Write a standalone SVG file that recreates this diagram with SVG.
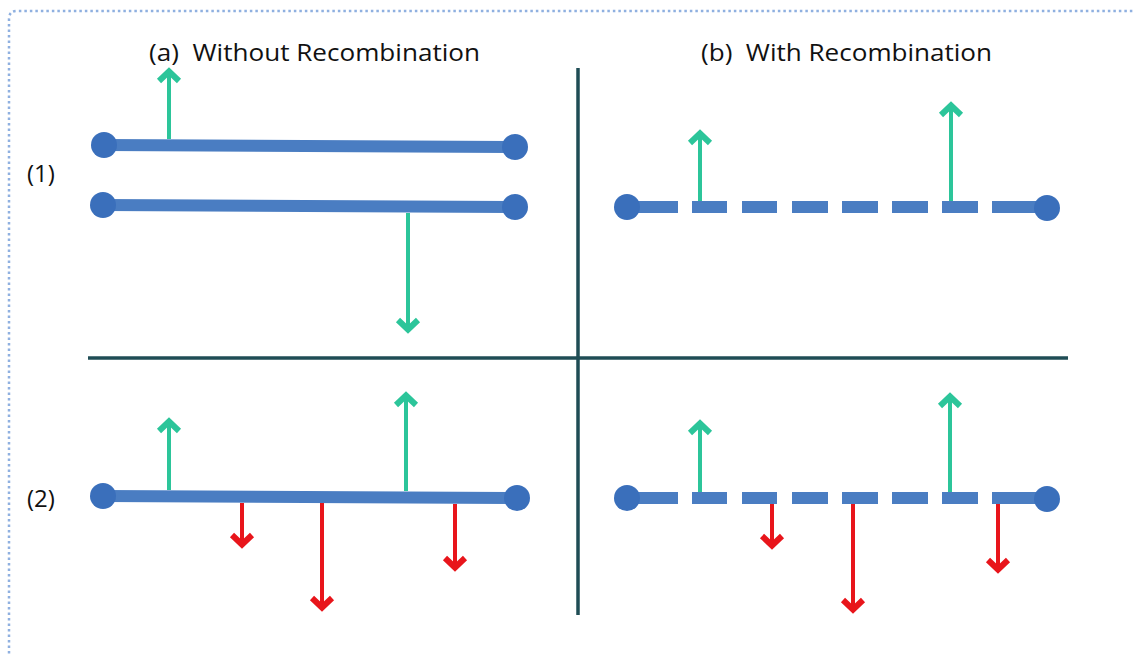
<svg xmlns="http://www.w3.org/2000/svg" width="1134" height="655" viewBox="0 0 1134 655">
<style>
.lbl{font-family:"Open Sans","Liberation Sans",sans-serif;font-size:24px;fill:#111;white-space:pre}
.chr{stroke:#4a7dc2;stroke-width:12;fill:none}
.dot{fill:#3a6fbb}
.g{stroke:#2cc59a;stroke-width:4;fill:none;marker-end:url(#mg)}
.r{stroke:#e8151b;stroke-width:4;fill:none;marker-end:url(#mr)}
.div{stroke:#1f4d55;stroke-width:3.5;fill:none}
</style>
<defs>
<marker id="mg" markerUnits="userSpaceOnUse" markerWidth="34" markerHeight="34" viewBox="-17 -17 34 34" refX="0" refY="0" orient="auto">
<path d="M-11,-10 L-1.5,0 L-11,10" fill="none" stroke="#2cc59a" stroke-width="6" stroke-linejoin="miter"/>
</marker>
<marker id="mr" markerUnits="userSpaceOnUse" markerWidth="34" markerHeight="34" viewBox="-17 -17 34 34" refX="0" refY="0" orient="auto">
<path d="M-11,-10 L-1.5,0 L-11,10" fill="none" stroke="#e8151b" stroke-width="6" stroke-linejoin="miter"/>
</marker>
</defs>
<rect width="1134" height="655" fill="#fff"/>
<path d="M9,670 L9,19 Q9,11 17,11 L1150,11" fill="none" stroke="#8fb0e0" stroke-width="2.5" stroke-dasharray="2.5 3"/>

<g id="titles">
<text class="lbl" x="149" y="61" xml:space="preserve" textLength="331" lengthAdjust="spacingAndGlyphs">(a)  Without Recombination</text>
<text class="lbl" x="701" y="61" xml:space="preserve" textLength="291" lengthAdjust="spacingAndGlyphs">(b)  With Recombination</text>
<text class="lbl" x="27" y="182">(1)</text>
<text class="lbl" x="27" y="507">(2)</text>
</g>

<g id="dividers">
<line class="div" x1="578" y1="68" x2="578" y2="615"/>
<line class="div" x1="88" y1="358" x2="1068" y2="358"/>
</g>

<g id="a1-top">
<line class="chr" x1="104" y1="145" x2="515" y2="147"/>
<circle class="dot" cx="104" cy="145" r="13"/>
<circle class="dot" cx="515" cy="147" r="13"/>
</g>
<g id="a1-bottom">
<line class="chr" x1="103" y1="205" x2="515" y2="207"/>
<circle class="dot" cx="103" cy="205" r="13"/>
<circle class="dot" cx="515" cy="207" r="13"/>
</g>

<g id="b1">
<path class="chr" d="M627,207 H678 M692,207 H727 M742,207 H777 M792,207 H828 M842,207 H878 M892,207 H928 M942,207 H978 M992,207 H1047"/>
<circle class="dot" cx="627" cy="207" r="13"/>
<circle class="dot" cx="1047" cy="208" r="13"/>
</g>

<g id="a2">
<line class="chr" x1="103" y1="496" x2="517" y2="498"/>
<circle class="dot" cx="103" cy="496" r="13"/>
<circle class="dot" cx="517" cy="498" r="13"/>
</g>

<g id="b2">
<path class="chr" d="M627,498 H678 M692,498 H727 M742,498 H777 M792,498 H828 M842,498 H878 M892,498 H928 M942,498 H978 M992,498 H1047"/>
<circle class="dot" cx="627" cy="498" r="13"/>
<circle class="dot" cx="1047" cy="499" r="13"/>
</g>

<g id="connectors">
<line class="g" x1="169" y1="139" x2="169" y2="70"/>
<line class="g" x1="408" y1="213" x2="408" y2="331"/>
<line class="g" x1="700" y1="201" x2="700" y2="132"/>
<line class="g" x1="951" y1="201" x2="951" y2="104"/>
<line class="g" x1="169" y1="490" x2="169" y2="420"/>
<line class="g" x1="406" y1="491" x2="406" y2="394"/>
<line class="r" x1="242" y1="503" x2="242" y2="546"/>
<line class="r" x1="322" y1="503" x2="322" y2="609"/>
<line class="r" x1="455" y1="504" x2="455" y2="569"/>
<line class="g" x1="700" y1="492" x2="700" y2="422"/>
<line class="g" x1="950" y1="492" x2="950" y2="395"/>
<line class="r" x1="772" y1="504" x2="772" y2="547"/>
<line class="r" x1="853" y1="504" x2="853" y2="611"/>
<line class="r" x1="998" y1="504" x2="998" y2="571"/>
</g>
</svg>
